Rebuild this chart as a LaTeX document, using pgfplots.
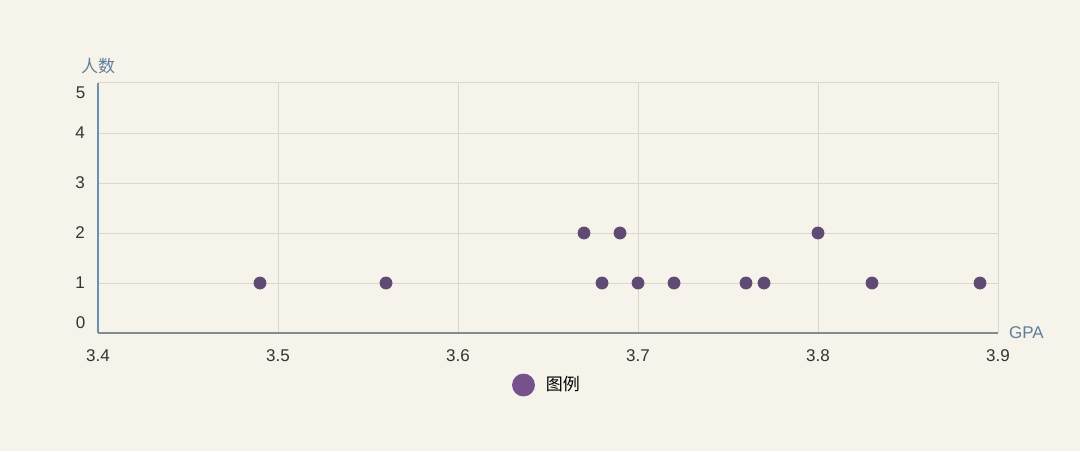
\documentclass[border=0pt]{standalone}
\usepackage{pgfplots}
\pgfplotsset{compat=1.18}
\usepackage{fontspec}
\setmainfont{Liberation Sans}
\newfontfamily\cjk{Noto Sans CJK SC}
\definecolor{bg}{RGB}{246,243,234}
\definecolor{dot}{RGB}{94,74,114}
\definecolor{legdot}{RGB}{118,82,140}
\definecolor{gridc}{RGB}{218,216,206}
\definecolor{yaxc}{RGB}{104,146,176}
\definecolor{xaxc}{RGB}{128,140,150}
\definecolor{labc}{RGB}{96,126,156}

\begin{document}
\begin{tikzpicture}
    \fill[bg] (0,0) rectangle (540pt,225.5pt);
    \begin{axis}[
        at={(49pt,59pt)}, anchor=south west,
        scale only axis, width=450pt, height=125pt,
        xmin=3.4, xmax=3.9, ymin=0, ymax=5,
        xtick={3.4,3.5,...,3.9}, ytick={0,1,...,5},
        xticklabels={3.4,3.5,3.6,3.7,3.8,3.9},
        % 0 and 5 are set by hand below, a little inside the axis
        yticklabels={{},1,2,3,4,{}},
        tick label style={font=\fontsize{8.5}{10}\selectfont, text=black!80},
        xticklabel style={yshift=-5pt},
        yticklabel style={xshift=-3pt},
        major tick length=0pt,
        grid=major, major grid style={gridc, line width=.5pt},
        separate axis lines,
        x axis line style={xaxc, line width=1.2pt},
        y axis line style={yaxc, line width=1.2pt},
        axis x line*=bottom, axis y line*=left,
        clip=false,
        legend style={draw=none, fill=none, at={(0.5,-0.14)}, anchor=north,
            font=\cjk\fontsize{8.5}{10}\selectfont},
        legend image code/.code={\fill[legdot] (0,0) circle (5.5pt);
            \path (9pt,0);},
    ]
        % top and right border
        \draw[gridc, line width=.5pt] (axis cs:3.4,5) -- (axis cs:3.9,5) -- (axis cs:3.9,0);
        \addplot[only marks, mark=*, mark size=3pt, color=dot] coordinates {
            (3.49,1) (3.56,1) (3.67,2) (3.68,1) (3.69,2) (3.70,1)
            (3.72,1) (3.76,1) (3.77,1) (3.80,2) (3.83,1) (3.89,1)};
        \addlegendentry{图例}
        \node[font=\fontsize{8.5}{10}\selectfont, text=black!80, anchor=east]
            at (axis cs:3.4,0) [xshift=-2.8pt, yshift=5pt] {0};
        \node[font=\fontsize{8.5}{10}\selectfont, text=black!80, anchor=east]
            at (axis cs:3.4,5) [xshift=-2.8pt, yshift=-5pt] {5};
        \node[font=\cjk\fontsize{8.5}{10}\selectfont, text=labc, anchor=south]
            at (axis cs:3.4,5) [yshift=1pt] {人数};
        \node[font=\fontsize{8.5}{10}\selectfont, text=labc, anchor=west]
            at (axis cs:3.9,0) [xshift=2pt] {GPA};
    \end{axis}
\end{tikzpicture}
\end{document}
